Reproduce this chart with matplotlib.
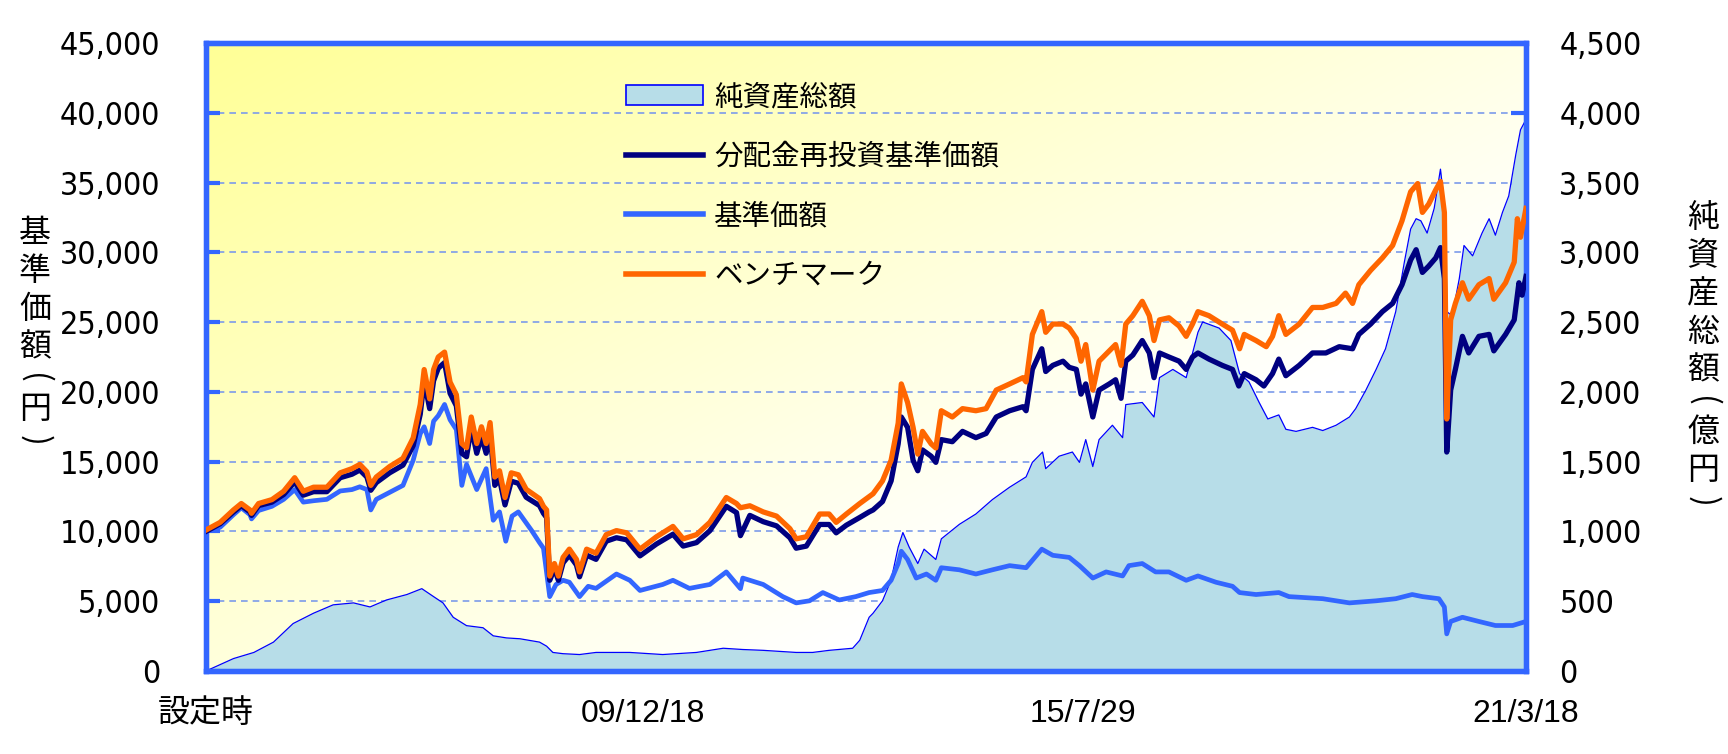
import numpy as np
import matplotlib
matplotlib.use("Agg")
import matplotlib.pyplot as plt
from matplotlib.patches import Patch
from matplotlib.lines import Line2D
from matplotlib.ticker import FuncFormatter
from matplotlib.font_manager import FontProperties, fontManager

# ---------------- data (decimal years) ----------------
x_start, x_end = 2004.39, 2021.21
tick_pos = [2004.39, 2009.96, 2015.57, 2021.21]
tick_labels = ["設定時", "09/12/18", "15/7/29", "21/3/18"]

bm_years = [2004.39, 2004.57, 2004.74, 2004.84, 2004.95, 2004.97, 2005.06, 2005.23, 2005.38, 2005.52,
            2005.63, 2005.76, 2005.93, 2006.10, 2006.25, 2006.35, 2006.44, 2006.49, 2006.56, 2006.73,
            2006.90, 2007.03, 2007.12, 2007.17, 2007.24, 2007.29, 2007.35, 2007.43, 2007.50, 2007.58,
            2007.65, 2007.71, 2007.77, 2007.84, 2007.90, 2007.96, 2008.01, 2008.07, 2008.13, 2008.20,
            2008.28, 2008.37, 2008.47, 2008.64, 2008.69, 2008.73, 2008.77, 2008.83, 2008.88, 2008.94,
            2009.02, 2009.11, 2009.15, 2009.24, 2009.36, 2009.49, 2009.62, 2009.75, 2009.92, 2010.13,
            2010.34, 2010.47, 2010.64, 2010.81, 2011.02, 2011.15, 2011.20, 2011.32, 2011.49, 2011.66,
            2011.83, 2011.91, 2012.04, 2012.21, 2012.33, 2012.42, 2012.55, 2012.72, 2012.84, 2012.89,
            2013.01, 2013.12, 2013.21, 2013.25, 2013.33, 2013.40, 2013.46, 2013.52, 2013.63, 2013.69,
            2013.76, 2013.90, 2014.03, 2014.20, 2014.33, 2014.46, 2014.63, 2014.80, 2014.84, 2014.92,
            2015.04, 2015.09, 2015.18, 2015.31, 2015.39, 2015.48, 2015.54, 2015.60, 2015.69, 2015.77,
            2015.90, 2015.98, 2016.05, 2016.11, 2016.20, 2016.32, 2016.41, 2016.47, 2016.54, 2016.66,
            2016.79, 2016.88, 2016.96, 2017.03, 2017.17, 2017.34, 2017.47, 2017.56, 2017.62, 2017.77,
            2017.90, 2017.98, 2018.06, 2018.15, 2018.32, 2018.49, 2018.62, 2018.79, 2018.91, 2019.00,
            2019.08, 2019.23, 2019.38, 2019.51, 2019.63, 2019.74, 2019.83, 2019.89, 2019.97, 2020.06,
            2020.12, 2020.17, 2020.20, 2020.25, 2020.31, 2020.40, 2020.48, 2020.61, 2020.74, 2020.80,
            2020.95, 2021.06, 2021.10, 2021.14, 2021.21]
bm_values = [10100, 10650, 11540, 12000, 11540, 11300, 12000, 12280, 12880, 13850,
             12880, 13170, 13170, 14200, 14500, 14800, 14270, 13300, 13900, 14650,
             15240, 16700, 19100, 21600, 19500, 21600, 22500, 22850, 20700, 19800,
             16300, 16000, 18200, 16300, 17500, 16300, 17800, 13900, 14350, 12430,
             14200, 14060, 13020, 12350, 11800, 11540, 6800, 7700, 6800, 8140,
             8730, 8000, 7100, 8730, 8440, 9770, 10060, 9900, 8730, 9620,
             10360, 9470, 9770, 10650, 12430, 12000, 11700, 11840, 11400, 11100,
             10200, 9470, 9620, 11250, 11250, 10650, 11250, 12000, 12500, 12700,
             13620, 15100, 17760, 20570, 19240, 17460, 15540, 17170, 16280, 15980,
             18650, 18200, 18800, 18650, 18800, 20130, 20570, 21020, 20720, 24120,
             25750, 24270, 24860, 24860, 24570, 23830, 22200, 23390, 20130, 22200,
             22940, 23390, 21900, 24860, 25460, 26490, 25460, 23680, 25160, 25310,
             24720, 23980, 24860, 25750, 25460, 24860, 24420, 23090, 24120, 23680,
             23240, 23980, 25460, 24120, 24860, 26050, 26050, 26340, 27080, 26340,
             27680, 28710, 29600, 30490, 32260, 34340, 34930, 32860, 33450, 34480,
             35080, 32860, 18060, 25160, 26340, 27820, 26640, 27680, 28120, 26640,
             27820, 29300, 32410, 31080, 33150]

ri_years = [2004.39, 2004.57, 2004.74, 2004.84, 2004.95, 2004.97, 2005.06, 2005.23, 2005.38, 2005.52,
            2005.63, 2005.76, 2005.93, 2006.10, 2006.25, 2006.35, 2006.44, 2006.49, 2006.56, 2006.73,
            2006.90, 2007.03, 2007.12, 2007.17, 2007.24, 2007.29, 2007.35, 2007.43, 2007.50, 2007.58,
            2007.65, 2007.71, 2007.77, 2007.84, 2007.90, 2007.96, 2008.01, 2008.07, 2008.13, 2008.20,
            2008.28, 2008.37, 2008.47, 2008.64, 2008.69, 2008.73, 2008.77, 2008.83, 2008.88, 2008.94,
            2009.02, 2009.11, 2009.15, 2009.24, 2009.36, 2009.49, 2009.62, 2009.75, 2009.92, 2010.13,
            2010.34, 2010.47, 2010.64, 2010.81, 2011.02, 2011.15, 2011.20, 2011.32, 2011.49, 2011.66,
            2011.83, 2011.91, 2012.04, 2012.21, 2012.33, 2012.42, 2012.55, 2012.72, 2012.84, 2012.89,
            2013.01, 2013.12, 2013.21, 2013.25, 2013.33, 2013.40, 2013.46, 2013.52, 2013.63, 2013.69,
            2013.76, 2013.90, 2014.03, 2014.20, 2014.33, 2014.46, 2014.63, 2014.80, 2014.84, 2014.92,
            2015.04, 2015.09, 2015.18, 2015.31, 2015.39, 2015.48, 2015.54, 2015.60, 2015.69, 2015.77,
            2015.90, 2015.98, 2016.05, 2016.11, 2016.20, 2016.32, 2016.41, 2016.47, 2016.54, 2016.66,
            2016.79, 2016.88, 2016.96, 2017.03, 2017.17, 2017.34, 2017.47, 2017.55, 2017.62, 2017.77,
            2017.87, 2017.98, 2018.06, 2018.15, 2018.32, 2018.49, 2018.66, 2018.83, 2019.00, 2019.08,
            2019.23, 2019.38, 2019.51, 2019.63, 2019.74, 2019.81, 2019.89, 2019.97, 2020.06, 2020.12,
            2020.17, 2020.20, 2020.25, 2020.31, 2020.40, 2020.48, 2020.61, 2020.74, 2020.80, 2020.95,
            2021.06, 2021.12, 2021.16, 2021.21]
ri_values = [10000, 10550, 11400, 11850, 11400, 11150, 11850, 12100, 12650, 13550,
             12600, 12850, 12850, 13850, 14100, 14400, 13900, 12950, 13500, 14200,
             14750, 16150, 18400, 20800, 18800, 20800, 21700, 22100, 19900, 19000,
             15600, 15350, 17450, 15600, 16800, 15600, 17100, 13300, 13750, 11900,
             13600, 13450, 12450, 11850, 11300, 11000, 6500, 7350, 6500, 7750,
             8300, 7600, 6750, 8300, 8000, 9300, 9550, 9400, 8250, 9100,
             9800, 8950, 9200, 10050, 11800, 11350, 9700, 11150, 10700, 10400,
             9550, 8800, 8950, 10500, 10500, 9900, 10450, 11000, 11400, 11540,
             12140, 13620, 16280, 18200, 17460, 15100, 14350, 15840, 15390, 14950,
             16580, 16430, 17170, 16720, 17020, 18200, 18650, 18940, 18650, 21610,
             23090, 21460, 21900, 22200, 21760, 21610, 19840, 20570, 18200, 20130,
             20570, 20870, 19540, 22200, 22640, 23680, 22790, 21020, 22790, 22500,
             22200, 21610, 22500, 22790, 22350, 21900, 21610, 20420, 21310, 20870,
             20420, 21310, 22350, 21160, 21900, 22790, 22790, 23240, 23090, 24120,
             24860, 25750, 26340, 27680, 29450, 30190, 28560, 29010, 29600, 30340,
             28120, 15690, 20130, 21610, 23980, 22790, 23980, 24120, 22940, 24120,
             25160, 27820, 26930, 28270]

nav_years = [2004.39, 2004.57, 2004.74, 2004.84, 2004.95, 2004.97, 2005.06, 2005.23, 2005.38, 2005.52,
             2005.63, 2005.76, 2005.93, 2006.10, 2006.25, 2006.35, 2006.44, 2006.49, 2006.56, 2006.73,
             2006.90, 2007.03, 2007.12, 2007.17, 2007.24, 2007.29, 2007.35, 2007.43, 2007.50, 2007.58,
             2007.65, 2007.71, 2007.84, 2007.96, 2008.05, 2008.13, 2008.21, 2008.29, 2008.37, 2008.54,
             2008.64, 2008.69, 2008.77, 2008.85, 2008.94, 2009.02, 2009.15, 2009.26, 2009.36, 2009.62,
             2009.79, 2009.92, 2010.21, 2010.34, 2010.55, 2010.81, 2011.02, 2011.20, 2011.23, 2011.49,
             2011.74, 2011.91, 2012.08, 2012.25, 2012.46, 2012.67, 2012.84, 2013.01, 2013.12, 2013.21,
             2013.25, 2013.33, 2013.44, 2013.57, 2013.69, 2013.76, 2013.99, 2014.20, 2014.41, 2014.63,
             2014.84, 2015.04, 2015.18, 2015.39, 2015.52, 2015.69, 2015.86, 2016.07, 2016.15, 2016.32,
             2016.49, 2016.66, 2016.88, 2017.03, 2017.26, 2017.47, 2017.56, 2017.77, 2018.06, 2018.19,
             2018.62, 2018.96, 2019.30, 2019.55, 2019.76, 2019.89, 2020.10, 2020.17, 2020.20, 2020.25,
             2020.40, 2020.61, 2020.82, 2021.04, 2021.21]
nav_values = [10000, 10300, 11200, 11700, 11200, 10900, 11500, 11800, 12300, 13000,
              12100, 12200, 12300, 12900, 13000, 13200, 13000, 11540, 12300, 12800,
              13300, 15100, 17000, 17500, 16300, 17900, 18300, 19100, 18000, 17300,
              13300, 14800, 13000, 14500, 10800, 11400, 9300, 11100, 11400, 10060,
              9200, 8800, 5330, 6200, 6500, 6360, 5330, 6070, 5920, 6950,
              6500, 5770, 6200, 6500, 5920, 6200, 7100, 5900, 6660, 6200,
              5330, 4880, 5030, 5620, 5090, 5330, 5620, 5770, 6500, 7700,
              8580, 7990, 6660, 6950, 6500, 7400, 7250, 6950, 7250, 7550,
              7400, 8730, 8290, 8140, 7550, 6660, 7100, 6810, 7550, 7700,
              7100, 7100, 6500, 6810, 6360, 6070, 5620, 5480, 5620, 5330,
              5180, 4880, 5030, 5180, 5480, 5330, 5180, 4590, 2660, 3550,
              3850, 3550, 3260, 3260, 3550]

na_years = [2004.39, 2004.74, 2005.00, 2005.25, 2005.50, 2005.76, 2006.01, 2006.27, 2006.48, 2006.69,
            2006.95, 2007.14, 2007.29, 2007.41, 2007.54, 2007.71, 2007.92, 2008.05, 2008.22, 2008.39,
            2008.64, 2008.73, 2008.81, 2008.94, 2009.15, 2009.36, 2009.79, 2010.21, 2010.64, 2010.98,
            2011.23, 2011.49, 2011.91, 2012.12, 2012.33, 2012.63, 2012.72, 2012.84, 2012.89, 2013.01,
            2013.12, 2013.21, 2013.27, 2013.35, 2013.46, 2013.54, 2013.69, 2013.76, 2013.99, 2014.20,
            2014.41, 2014.63, 2014.84, 2014.92, 2015.05, 2015.09, 2015.26, 2015.43, 2015.52, 2015.60,
            2015.69, 2015.77, 2015.94, 2016.07, 2016.11, 2016.32, 2016.47, 2016.54, 2016.71, 2016.88,
            2017.03, 2017.09, 2017.30, 2017.45, 2017.56, 2017.68, 2017.81, 2017.92, 2018.06, 2018.15,
            2018.28, 2018.49, 2018.62, 2018.79, 2018.96, 2019.04, 2019.17, 2019.30, 2019.42, 2019.55,
            2019.66, 2019.74, 2019.81, 2019.87, 2019.95, 2020.04, 2020.12, 2020.17, 2020.20, 2020.27,
            2020.36, 2020.42, 2020.53, 2020.65, 2020.74, 2020.82, 2020.91, 2020.99, 2021.08, 2021.14,
            2021.21]
na_values = [0, 89, 133, 207, 340, 414, 474, 488, 459, 509,
             548, 590, 533, 488, 385, 325, 310, 252, 237, 231,
             207, 178, 133, 124, 118, 133, 133, 118, 133, 163,
             154, 148, 133, 133, 148, 163, 220, 385, 414, 503,
             651, 888, 992, 888, 770, 873, 799, 947, 1051, 1125,
             1228, 1317, 1391, 1495, 1569, 1450, 1539, 1569, 1495, 1658,
             1465, 1658, 1761, 1672, 1909, 1924, 1820, 2102, 2161, 2102,
             2427, 2501, 2457, 2368, 2131, 2072, 1924, 1806, 1835, 1732,
             1717, 1746, 1723, 1761, 1820, 1880, 2013, 2161, 2309, 2575,
             2930, 3167, 3241, 3226, 3138, 3315, 3596, 3345, 2575, 2546,
             2812, 3049, 2975, 3138, 3241, 3123, 3286, 3404, 3700, 3878,
             3952]

legend_labels = ["純資産総額", "分配金再投資基準価額", "基準価額", "ベンチマーク"]
left_ylabel = "基準価額（円）"
right_ylabel = "純資産総額（億円）"

# ---------------- fonts ----------------
CJK = "Noto Sans CJK JP"
_names = {f.name for f in fontManager.ttflist}
_cond = [f.fname for f in fontManager.ttflist if f.fname.endswith("DejaVuSansCondensed.ttf")]
if _cond:
    NUM_FP = FontProperties(fname=_cond[0], size=23)
else:
    NUM_FP = FontProperties(family="Roboto", size=23.5)
if "Liberation Sans Narrow" in _names:
    XT_FAMILY, XT_SIZE = ["Liberation Sans Narrow", CJK], 26
else:
    XT_FAMILY, XT_SIZE = ["Liberation Sans", CJK], 23

# ---------------- styling ----------------
SPINE = "#3366FF"
C_NAVY = "#000080"
C_BLUE = "#3366FF"
C_ORANGE = "#FF6600"
C_FILL = "#B7DDE8"
C_FILL_EDGE = "#0000FF"
GRID = "#7B9BEA"

W, H = 1728, 754
fig = plt.figure(figsize=(W / 100, H / 100), dpi=100)
fig.patch.set_facecolor("white")
L, R, T, B = 206, 1526, 43, 671
ax = fig.add_axes([L / W, 1 - B / H, (R - L) / W, (B - T) / H])

# gradient background
nx, ny = 300, 300
xn = np.linspace(0, 1, nx)
yn = np.linspace(1, 0, ny)
X, Y = np.meshgrid(xn, yn)
blue_ch = np.clip(150 + 80 * X + 70 * (1 - Y), 0, 255) / 255.0
img = np.dstack([np.ones_like(blue_ch), np.ones_like(blue_ch), blue_ch])
ax.imshow(img, extent=[0, 1, 0, 1], transform=ax.transAxes, aspect="auto",
          zorder=0, interpolation="bilinear")

# net assets on primary axes (right scale)
for v in range(500, 4500, 500):
    ax.axhline(v, color=GRID, lw=1.2, ls=(0, (4, 3)), zorder=1)
ax.fill_between(na_years, na_values, 0, color=C_FILL, lw=0, zorder=2)
ax.plot(na_years, na_values, color=C_FILL_EDGE, lw=0.9, zorder=3)
ax.set_xlim(x_start, x_end)
ax.set_ylim(0, 4500)
ax.set_yticks(range(0, 4501, 500))

ax.set_xticks(tick_pos)
ax.set_xticklabels(tick_labels)
for lab in ax.get_xticklabels():
    lab.set_fontfamily(XT_FAMILY)
    lab.set_fontsize(XT_SIZE)
ax.tick_params(axis="x", direction="in", length=8, width=2.5, color=SPINE, pad=20)

# price lines on twin axes (left scale)
ax2 = ax.twinx()
ax2.patch.set_visible(False)
ax2.plot(nav_years, nav_values, color=C_BLUE, lw=3.4, zorder=3, solid_joinstyle="round")
ax2.plot(ri_years, ri_values, color=C_NAVY, lw=3.8, zorder=4, solid_joinstyle="round")
ax2.plot(bm_years, bm_values, color=C_ORANGE, lw=3.8, zorder=5, solid_joinstyle="round")
ax2.set_xlim(x_start, x_end)
ax2.set_ylim(0, 45000)
ax2.set_yticks(range(0, 45001, 5000))

# price scale on the left, net-asset scale on the right
ax2.yaxis.tick_left()
ax2.yaxis.set_label_position("left")
ax.yaxis.tick_right()
ax.yaxis.set_label_position("right")

fmt = FuncFormatter(lambda v, p: f"{v:,.0f}")
ax.yaxis.set_major_formatter(fmt)
ax2.yaxis.set_major_formatter(fmt)
ax.tick_params(axis="y", direction="in", length=11, width=3, color=SPINE, pad=24,
               labelcolor="black", left=False, labelleft=False, right=True, labelright=True)
ax2.tick_params(axis="y", direction="in", length=10, width=3, color=SPINE, pad=33,
                labelcolor="black", left=True, labelleft=True, right=False, labelright=False)
for lab in ax.get_yticklabels() + ax2.get_yticklabels():
    lab.set_fontproperties(NUM_FP)

for a in (ax, ax2):
    for s in a.spines.values():
        s.set_color(SPINE)
        s.set_linewidth(3.8)

# legend
handles = [Patch(facecolor=C_FILL, edgecolor=C_FILL_EDGE, lw=1.2),
           Line2D([], [], color=C_NAVY, lw=4),
           Line2D([], [], color=C_BLUE, lw=4),
           Line2D([], [], color=C_ORANGE, lw=4)]
ax2.legend(handles, legend_labels, loc="upper left", bbox_to_anchor=(0.318, 0.938),
           frameon=False, prop=FontProperties(family=CJK, size=20.5),
           handlelength=2.7, handletextpad=0.4, labelspacing=1.04,
           borderpad=0, borderaxespad=0)

# vertical axis titles, one glyph per line
def vlabel(text, xc, ytop, fs=23, step=38, pstep=24):
    y = ytop
    for ch in text:
        if ch in "（(":
            h = pstep
            fig.text(xc / W, 1 - (y + h / 2) / H, "(", rotation=-90, ha="center",
                     va="center", fontsize=fs, family=CJK)
        elif ch in "）)":
            h = pstep
            fig.text(xc / W, 1 - (y + h / 2) / H, ")", rotation=-90, ha="center",
                     va="center", fontsize=fs, family=CJK)
        else:
            h = step
            fig.text(xc / W, 1 - (y + h / 2) / H, ch, ha="center", va="center",
                     fontsize=fs, family=CJK)
        y += h

vlabel(left_ylabel, 35, 214)
vlabel(right_ylabel, 1703, 199)

fig.savefig("out.png", dpi=100)
